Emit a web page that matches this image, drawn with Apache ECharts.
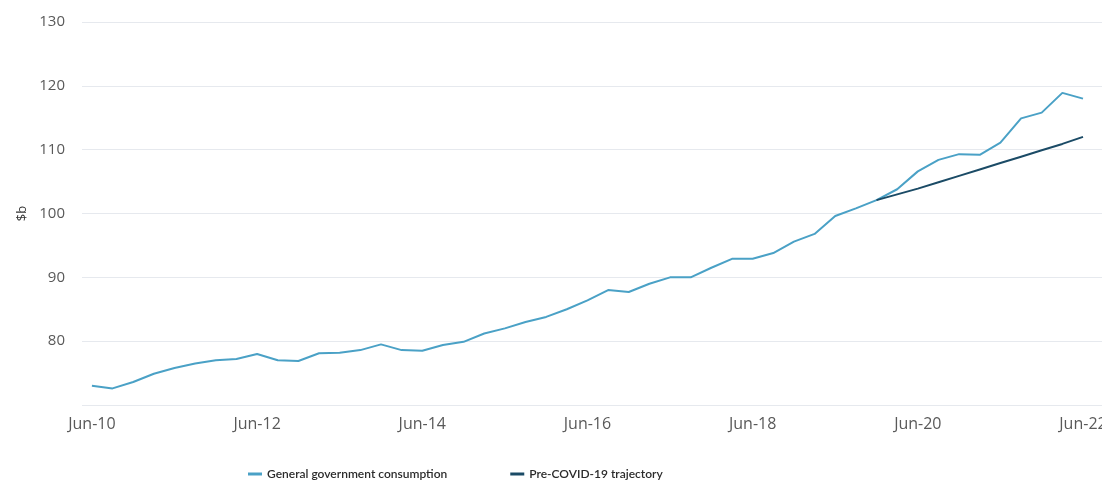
<!DOCTYPE html>
<html>
<head>
<meta charset="utf-8">
<script src="https://cdn.jsdelivr.net/npm/echarts@6/dist/echarts.min.js"></script>
<style>
  html, body { margin: 0; padding: 0; background: #fff; }
  #chart { width: 1102px; height: 483px; }
</style>
</head>
<body>
<div id="chart"></div>
<script>
// quarterly, Jun-10 .. Jun-22
const quarters = [
  'Jun-10', 'Sep-10', 'Dec-10', 'Mar-11', 'Jun-11', 'Sep-11', 'Dec-11', 'Mar-12',
  'Jun-12', 'Sep-12', 'Dec-12', 'Mar-13', 'Jun-13', 'Sep-13', 'Dec-13', 'Mar-14',
  'Jun-14', 'Sep-14', 'Dec-14', 'Mar-15', 'Jun-15', 'Sep-15', 'Dec-15', 'Mar-16',
  'Jun-16', 'Sep-16', 'Dec-16', 'Mar-17', 'Jun-17', 'Sep-17', 'Dec-17', 'Mar-18',
  'Jun-18', 'Sep-18', 'Dec-18', 'Mar-19', 'Jun-19', 'Sep-19', 'Dec-19', 'Mar-20',
  'Jun-20', 'Sep-20', 'Dec-20', 'Mar-21', 'Jun-21', 'Sep-21', 'Dec-21', 'Mar-22',
  'Jun-22'
]

const govConsumption = [
  73.0, 72.6, 73.6, 74.9, 75.8, 76.5, 77.0, 77.2,
  78.0, 77.0, 76.9, 78.1, 78.2, 78.6, 79.5, 78.6,
  78.5, 79.4, 79.9, 81.2, 82.0, 83.0, 83.8, 85.0,
  86.4, 88.0, 87.7, 89.0, 90.0, 90.0, 91.5, 92.9,
  92.9, 93.8, 95.6, 96.8, 99.6, 100.8, 102.1, 103.8,
  106.6, 108.4, 109.3, 109.2, 111.1, 114.9, 115.8, 118.9,
  118.0
]

// starts at Dec-19
const preCovid = [
  102.1, 103.0, 103.9, 104.9, 105.9, 106.9, 107.9, 108.9, 109.9, 110.9, 112.0
]
const preCovidStart = 38

const labelIdx = [0, 8, 16, 24, 32, 40, 48]

const chart = echarts.init(document.getElementById('chart'), null, { renderer: 'canvas' })

const font = 'Segoe UI, "Open Sans", "Noto Sans", sans-serif'

chart.setOption({
  animation: false,
  textStyle: { fontFamily: font },
  grid: { left: 82, right: 0, top: 22, bottom: 78, outerBoundsMode: 'none' },
  legend: {
    top: 463,
    left: 243,
    itemGap: 63,
    itemWidth: 14,
    itemHeight: 3,
    icon: 'rect',
    textStyle: { color: '#2b2b2b', fontSize: 12, fontWeight: 600, fontFamily: 'Lato, sans-serif' },
    data: ['General government consumption', 'Pre-COVID-19 trajectory']
  },
  xAxis: {
    type: 'value',
    min: -0.48,
    max: 48.92,
    splitLine: { show: false },
    axisTick: { show: false },
    axisLine: { show: false },
    axisLabel: {
      customValues: labelIdx,
      formatter: (v) => quarters[v],
      color: '#595959',
      fontSize: 16,
      margin: 11,
      fontFamily: font
    }
  },
  yAxis: {
    type: 'value',
    min: 70,
    max: 130,
    interval: 10,
    name: '$b',
    nameLocation: 'middle',
    nameGap: 53,
    nameTextStyle: { color: '#333', fontSize: 13, fontFamily: font },
    axisLine: { show: false },
    axisTick: { show: false },
    axisLabel: {
      color: '#595959',
      fontSize: 15,
      margin: 17,
      fontFamily: font,
      formatter: (v) => (v === 70 ? '' : v)
    },
    splitLine: { lineStyle: { color: '#e6e9ee', width: 1 } }
  },
  series: [
    {
      name: 'General government consumption',
      type: 'line',
      showSymbol: false,
      symbol: 'none',
      data: govConsumption.map((v, i) => [i, v]),
      lineStyle: { color: '#4aa1c6', width: 2 },
      itemStyle: { color: '#4aa1c6' },
      z: 2
    },
    {
      name: 'Pre-COVID-19 trajectory',
      type: 'line',
      showSymbol: false,
      symbol: 'none',
      data: preCovid.map((v, i) => [preCovidStart + i, v]),
      lineStyle: { color: '#1b4b66', width: 2 },
      itemStyle: { color: '#1b4b66' },
      z: 3
    }
  ]
})
</script>
</body>
</html>
